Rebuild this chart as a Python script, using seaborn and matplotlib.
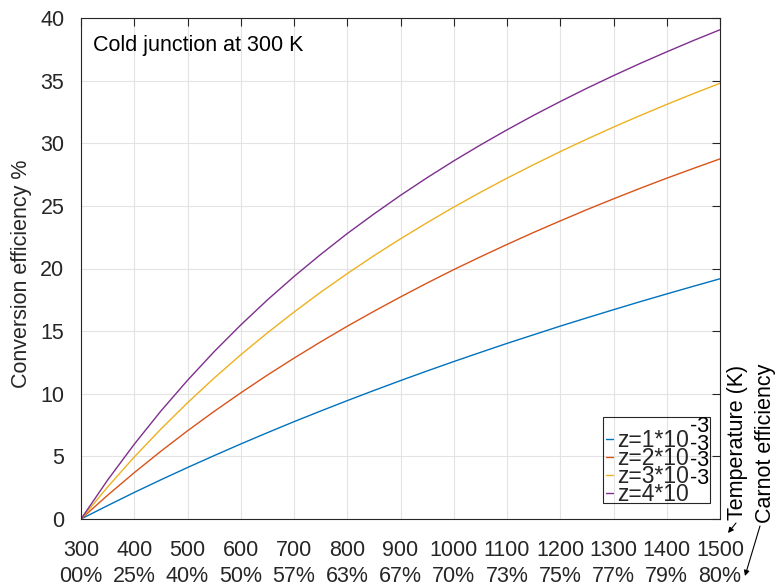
import numpy as np
import pandas as pd
import matplotlib
matplotlib.use("Agg")
import matplotlib.pyplot as plt
from matplotlib.patches import Rectangle
import seaborn as sns

# ---- data ----
temps = [300, 350, 400, 450, 500, 550, 600, 650, 700, 750, 800, 850, 900, 950, 1000,
         1050, 1100, 1150, 1200, 1250, 1300, 1350, 1400, 1450, 1500]
eff_z1 = [0.0, 1.07, 2.12, 3.13, 4.11, 5.06, 5.99, 6.89, 7.77, 8.62, 9.45, 10.26, 11.05,
          11.82, 12.57, 13.30, 14.02, 14.71, 15.40, 16.06, 16.71, 17.35, 17.97, 18.58, 19.18]
eff_z2 = [0.0, 1.90, 3.70, 5.41, 7.04, 8.59, 10.07, 11.49, 12.84, 14.14, 15.39, 16.58, 17.73,
          18.84, 19.91, 20.93, 21.92, 22.88, 23.80, 24.70, 25.56, 26.40, 27.21, 27.99, 28.75]
eff_z3 = [0.0, 2.56, 4.95, 7.18, 9.28, 11.25, 13.11, 14.86, 16.52, 18.10, 19.59, 21.02, 22.37,
          23.66, 24.90, 26.08, 27.21, 28.29, 29.33, 30.33, 31.29, 32.21, 33.10, 33.96, 34.79]
eff_z4 = [0.0, 3.11, 5.97, 8.62, 11.07, 13.36, 15.49, 17.49, 19.36, 21.12, 22.79, 24.35, 25.84,
          27.25, 28.59, 29.86, 31.07, 32.23, 33.33, 34.39, 35.40, 36.37, 37.30, 38.20, 39.06]
series_names = ["z=1*10", "z=2*10", "z=3*10", "z=4*10"]
x_ticks = [300, 400, 500, 600, 700, 800, 900, 1000, 1100, 1200, 1300, 1400, 1500]
carnot_labels = ["00%", "25%", "40%", "50%", "57%", "63%", "67%", "70%", "73%", "75%", "77%", "79%", "80%"]
y_ticks = [0, 5, 10, 15, 20, 25, 30, 35, 40]
colors = ["#0072BD", "#D95319", "#EDB120", "#7E2F8E"]

rows = []
for name, vals in zip(series_names, [eff_z1, eff_z2, eff_z3, eff_z4]):
    for t, v in zip(temps, vals):
        rows.append({"T": t, "eff": v, "series": name})
df = pd.DataFrame(rows)

sns.set_style("white")
plt.rcParams["font.family"] = ["Liberation Sans", "DejaVu Sans"]
FS = 15.5
AXC = "#262626"

W, H = 779, 586
fig = plt.figure(figsize=(W / 100, H / 100), dpi=100)
L, R, T, B = 81, 720, 18, 519
ax = fig.add_axes([L / W, 1 - B / H, (R - L) / W, (B - T) / H])

sns.lineplot(data=df, x="T", y="eff", hue="series", palette=colors, ax=ax,
             linewidth=1.0, legend=False)

ax.set_xlim(300, 1500)
ax.set_ylim(0, 40)
ax.set_xticks(x_ticks)
ax.set_xticklabels([f"{t}\n{c}" for t, c in zip(x_ticks, carnot_labels)],
                   fontsize=FS, color=AXC, linespacing=1.3)
ax.set_yticks(y_ticks)
ax.set_yticklabels([str(v) for v in y_ticks], fontsize=FS, color=AXC)
ax.tick_params(direction="in", length=6, width=0.8, color=AXC, top=True, right=True)
ax.tick_params(axis="x", pad=15)
ax.tick_params(axis="y", pad=12)
ax.grid(True, color="#e3e3e3", linewidth=0.8)
for s in ax.spines.values():
    s.set_color(AXC)
    s.set_linewidth(0.8)
ax.set_xlabel("")
ax.set_ylabel("Conversion efficiency %", fontsize=FS, color=AXC)
ax.yaxis.set_label_coords(-0.076, 0.49)

ax.text((93 - L) / (R - L), (B - 46) / (B - T), "Cold junction at 300 K",
        transform=ax.transAxes, fontsize=FS, va="center", ha="left", color="black")

# legend
LFS = 16.5
handles = ax.get_lines()[:4]
leg = ax.legend(handles, series_names, loc="upper left",
                bbox_to_anchor=(603 / W, 1 - 426 / H), bbox_transform=fig.transFigure,
                borderaxespad=0, frameon=False,
                handlelength=0.3, handletextpad=0.15, labelspacing=-0.22,
                borderpad=0.15, fontsize=LFS)
fig.add_artist(Rectangle((603 / W, 1 - 503 / H), (710 - 603) / W, (503 - 417) / H,
                         transform=fig.transFigure, facecolor="none", edgecolor=AXC,
                         linewidth=0.8, zorder=1))
for ty in [427, 444, 461, 478]:
    fig.text(700 / W, 1 - ty / H, "-3", fontsize=FS, ha="center", va="center", color="black")

# side labels with arrows
fig.text(737 / W, 1 - 520 / H, "Temperature (K)", rotation=90, ha="center", va="bottom",
         fontsize=FS, color="black")
fig.text(765 / W, 1 - 523 / H, "Carnot efficiency", rotation=90, ha="center", va="bottom",
         fontsize=FS, color="black")
arrow_kw = dict(arrowstyle="-|>", lw=0.8, color="black", mutation_scale=8, shrinkA=0, shrinkB=0)
ax.annotate("", xy=(728 / W, 1 - 533 / H), xytext=(736 / W, 1 - 523 / H),
            xycoords="figure fraction", textcoords="figure fraction",
            arrowprops=arrow_kw, annotation_clip=False)
ax.annotate("", xy=(745 / W, 1 - 576 / H), xytext=(760 / W, 1 - 526 / H),
            xycoords="figure fraction", textcoords="figure fraction",
            arrowprops=arrow_kw, annotation_clip=False)

fig.savefig("out.png", dpi=100)
